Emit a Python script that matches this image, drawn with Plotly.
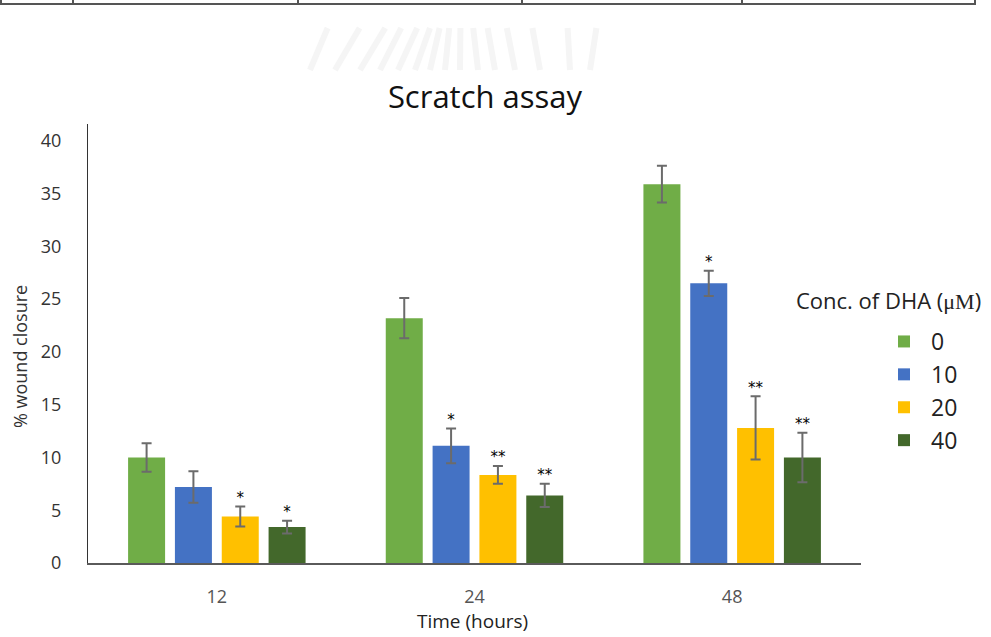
import plotly.graph_objects as go

# ---------------- data ----------------
hours = ["12", "24", "48"]
conc_labels = ["0", "10", "20", "40"]

mean_0 = [10.0, 23.2, 35.9]
mean_10 = [7.2, 11.1, 26.5]
mean_20 = [4.4, 8.35, 12.8]
mean_40 = [3.4, 6.4, 10.0]

err_0 = [1.35, 1.9, 1.75]
err_10 = [1.5, 1.65, 1.2]
err_20 = [0.95, 0.85, 3.0]
err_40 = [0.6, 1.1, 2.35]

stars_0 = ["", "", ""]
stars_10 = ["", "*", "*"]
stars_20 = ["*", "**", "**"]
stars_40 = ["*", "**", "**"]

y_ticks = [0, 5, 10, 15, 20, 25, 30, 35, 40]

colors = ["#70AD47", "#4472C4", "#FFC000", "#43682B"]
means = [mean_0, mean_10, mean_20, mean_40]
errs = [err_0, err_10, err_20, err_40]
stars = [stars_0, stars_10, stars_20, stars_40]

# ---------------- layout geometry ----------------
W, H = 991, 637
L, R, T, B = 88, 861, 124, 563
BARGAP = 0.273


def px(x):
    return (x - L) / (R - L)


def py(y):
    return (B - y) / (B - T)


fig = go.Figure()

for i, lab in enumerate(conc_labels):
    fig.add_trace(go.Bar(
        x=hours, y=means[i], name=lab,
        marker=dict(color=colors[i], line=dict(width=0)),
        offsetgroup=str(i), legendgroup=str(i),
        error_y=dict(type="data", array=errs[i], visible=True,
                     color="#6b6b6b", thickness=2, width=5),
    ))

for i, lab in enumerate(conc_labels):
    tops = [m + e for m, e in zip(means[i], errs[i])]
    fig.add_trace(go.Scatter(
        x=hours, y=tops, text=stars[i], mode="text",
        textposition="top center", offsetgroup=str(i),
        textfont=dict(family="DejaVu Sans", size=15, color="#000000"),
        showlegend=False, hoverinfo="skip", cliponaxis=False,
    ))

shapes = []
# faint watermark rays
ray_bottom = [310, 335, 360, 380, 398, 415, 430, 445, 460, 478, 495, 515, 540, 570, 590]
ray_top = [372, 392, 408, 418, 428, 436, 442, 448, 455, 463, 472, 484, 500, 522, 540]
for xb, xt in zip(ray_bottom, ray_top):
    shapes.append(dict(type="line", xref="paper", yref="paper",
                       x0=px(xb), x1=px(xt + (xt - 446) * 0.6), y0=py(70), y1=py(28),
                       line=dict(color="#f5f5f5", width=6)))
# table fragment at top of page
shapes.append(dict(type="line", xref="paper", yref="paper",
                   x0=px(0), x1=px(976), y0=py(4), y1=py(4),
                   line=dict(color="#555555", width=2)))
for xv in [1, 73, 298, 522, 742, 975]:
    shapes.append(dict(type="line", xref="paper", yref="paper",
                       x0=px(xv), x1=px(xv), y0=py(0), y1=py(4),
                       line=dict(color="#555555", width=2)))

annotations = [
    dict(text="% wound closure", xref="paper", yref="paper",
         x=px(20), y=py(357), textangle=-90, showarrow=False,
         font=dict(family="Open Sans", size=18, color="#333333"),
         xanchor="center", yanchor="middle"),
    dict(text="Time (hours)", xref="paper", yref="paper",
         x=px(472), y=py(621), showarrow=False,
         font=dict(family="Open Sans", size=19, color="#222222"),
         xanchor="center", yanchor="middle"),
    dict(text='Conc. of DHA (<span style="font-family:Liberation Serif">μM</span>)',
         xref="paper", yref="paper",
         x=px(794), y=py(300), showarrow=False,
         font=dict(family="Open Sans", size=22, color="#222222"),
         xanchor="left", yanchor="middle"),
]

fig.update_layout(
    width=W, height=H,
    margin=dict(l=L, r=W - R, t=T, b=H - B, pad=0),
    paper_bgcolor="white", plot_bgcolor="white",
    barmode="group", bargap=BARGAP, bargroupgap=0.21,
    scattermode="group", scattergap=BARGAP,
    title=dict(text="Scratch assay", x=485 / W, xref="container", xanchor="center",
               y=1 - 97 / H, yref="container", yanchor="middle",
               font=dict(family="Open Sans", size=31, color="#111111")),
    xaxis=dict(showline=True, linecolor="#5a5a5a", linewidth=2,
               showgrid=False, ticks="", ticklabelstandoff=16,
               tickfont=dict(family="Open Sans", size=18, color="#555555")),
    yaxis=dict(range=[0, 41.6], tickvals=y_ticks, showline=True,
               linecolor="#333333", linewidth=1, showgrid=False,
               zeroline=False, ticks="", ticklabelstandoff=22,
               tickfont=dict(family="Open Sans", size=18, color="#333333")),
    legend=dict(x=877 / W, xref="container", xanchor="left",
                y=1 - 320 / H, yref="container", yanchor="top",
                font=dict(family="Open Sans", size=23, color="#222222"),
                traceorder="grouped", tracegroupgap=0, itemwidth=44,
                bgcolor="rgba(0,0,0,0)"),
    shapes=shapes, annotations=annotations,
)

fig.write_html("out.html", post_script="document.body.style.margin='0';",
               config={"displayModeBar": False})
